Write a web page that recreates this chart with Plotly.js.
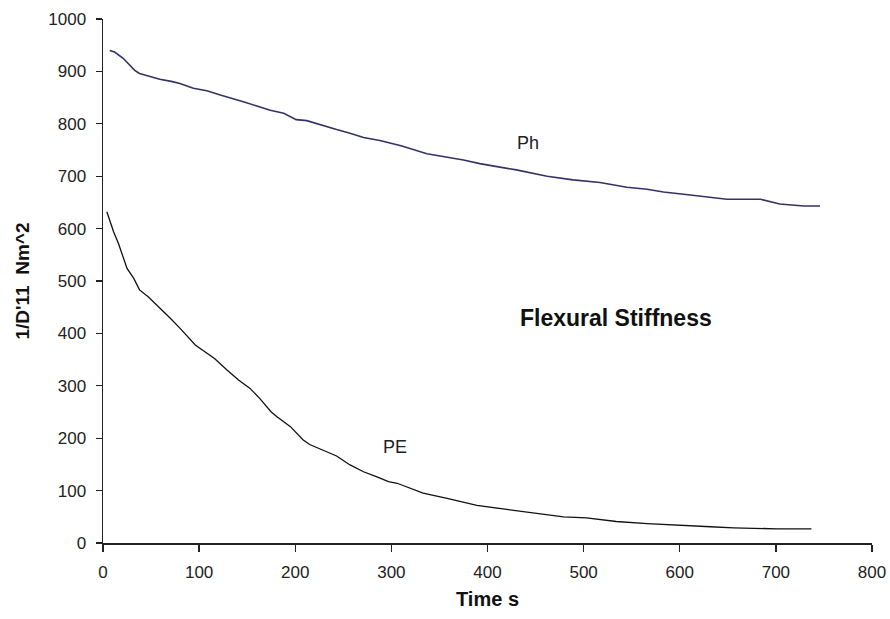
<!DOCTYPE html>
<html>
<head>
<meta charset="utf-8">
<script src="https://cdn.plot.ly/plotly-3.0.1.min.js"></script>
<style>html,body{margin:0;padding:0;background:#fff}#chart{width:890px;height:619px}</style>
</head>
<body>
<div id="chart"></div>
<script>
// Ph series (time s, 1/D'11 Nm^2)
const phTime = [7, 12, 21, 33, 38, 49, 59, 71, 80, 94, 108, 122, 132, 146, 160, 174, 188, 201, 212, 229, 243, 257, 271, 288, 310, 337, 375, 392, 430, 462, 489, 517, 545, 566, 583, 611, 639, 649, 684, 704, 729, 746];
const phValue = [940, 937, 925, 902, 896, 890, 885, 881, 877, 868, 863, 855, 850, 842, 834, 826, 820, 808, 806, 796, 789, 782, 774, 768, 758, 743, 731, 724, 712, 700, 693, 688, 679, 675, 670, 664, 658, 656, 656, 647, 643, 643];

// PE series
const peTime = [4, 11, 16, 25, 32, 38, 47, 58, 70, 80, 90, 96, 106, 116, 129, 141, 153, 163, 175, 181, 195, 208, 215, 229, 243, 257, 271, 285, 297, 306, 333, 358, 389, 420, 455, 479, 503, 534, 566, 593, 632, 656, 701, 737];
const peValue = [632, 594, 572, 524, 505, 483, 470, 451, 429, 410, 391, 378, 365, 352, 330, 311, 295, 276, 250, 241, 222, 197, 188, 177, 166, 149, 136, 126, 117, 114, 95, 85, 72, 64, 55, 50, 48, 41, 37, 34, 31, 29, 27, 27];

const xTicks = [0, 100, 200, 300, 400, 500, 600, 700, 800];
const yTicks = [0, 100, 200, 300, 400, 500, 600, 700, 800, 900, 1000];

const chartTitle = "Flexural Stiffness";
const xTitle = "Time s";
const yTitle = "1/D'11\u00a0\u00a0Nm^2";

const FONT = 'Liberation Sans, Arial, sans-serif';

const traces = [
  {x: phTime, y: phValue, type: 'scatter', mode: 'lines', name: 'Ph',
   line: {color: '#333366', width: 1.6}},
  {x: peTime, y: peValue, type: 'scatter', mode: 'lines', name: 'PE',
   line: {color: '#111111', width: 1.3}}
];

const axisFont = {family: FONT, size: 17, color: '#222'};

const layout = {
  width: 890, height: 619,
  margin: {l: 103, r: 18, t: 19, b: 76},
  paper_bgcolor: '#ffffff', plot_bgcolor: '#ffffff',
  showlegend: false,
  font: axisFont,
  xaxis: {
    range: [0, 800], tickvals: xTicks, ticktext: xTicks.map(String),
    showgrid: false, zeroline: false, showline: true, linecolor: '#222', linewidth: 1.5,
    ticks: 'outside', ticklen: 7, tickwidth: 1.3, tickcolor: '#222',
    tickfont: axisFont, ticklabelstandoff: 6,
    title: {text: xTitle, font: {family: FONT, size: 20, color: '#111', weight: 'bold'}, standoff: 11}
  },
  yaxis: {
    range: [0, 1000], tickvals: yTicks, ticktext: yTicks.map(String),
    showgrid: false, zeroline: false, showline: true, linecolor: '#222', linewidth: 1.5,
    ticks: 'outside', ticklen: 6, tickwidth: 1.3, tickcolor: '#222',
    tickfont: axisFont, ticklabelstandoff: 6,
    title: {text: yTitle, font: {family: FONT, size: 19, color: '#111', weight: 'bold'}, standoff: 13}
  },
  annotations: [
    {x: 534, y: 429, xref: 'x', yref: 'y', text: chartTitle, showarrow: false,
     font: {family: FONT, size: 23, color: '#111', weight: 'bold'}},
    {x: 442, y: 763, xref: 'x', yref: 'y', text: 'Ph', showarrow: false,
     font: {family: FONT, size: 18, color: '#222'}},
    {x: 304, y: 183, xref: 'x', yref: 'y', text: 'PE', showarrow: false,
     font: {family: FONT, size: 18, color: '#222'}}
  ]
};

Plotly.newPlot('chart', traces, layout, {displayModeBar: false, staticPlot: true});
</script>
</body>
</html>
